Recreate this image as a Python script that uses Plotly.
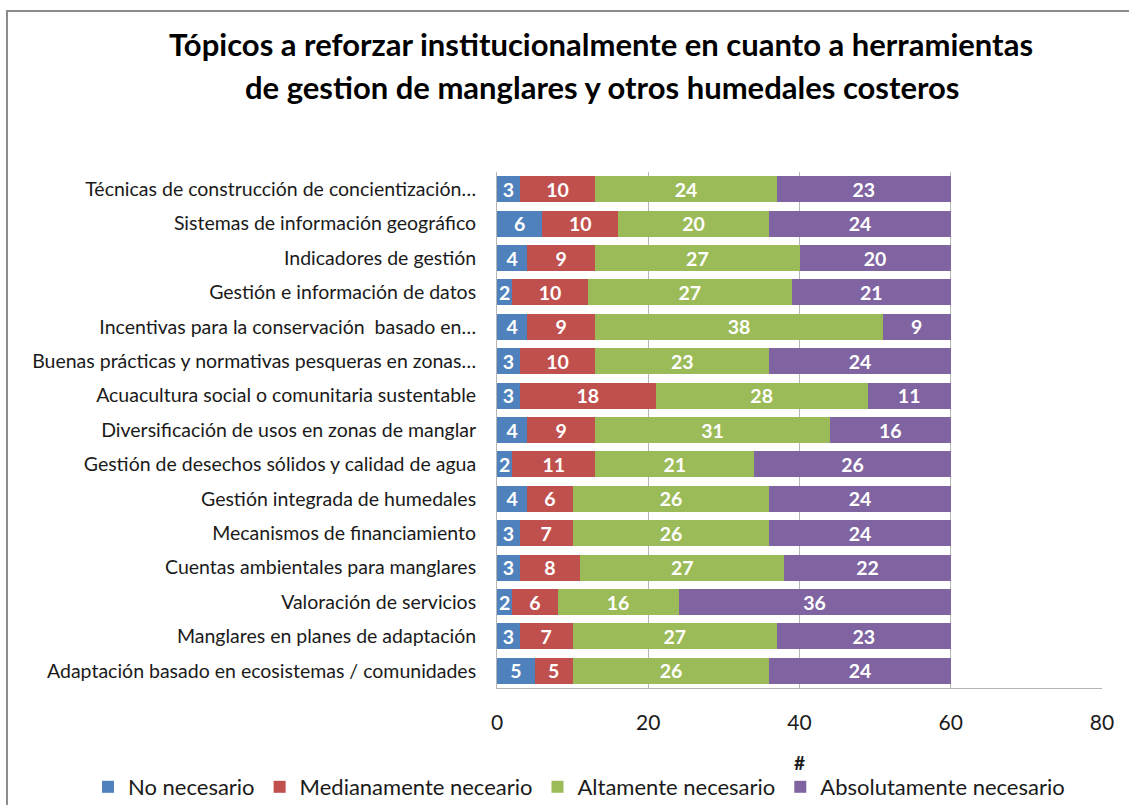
import plotly.graph_objects as go

categories = [
    "Técnicas de construcción de concientización…",
    "Sistemas de información geográfico",
    "Indicadores de gestión",
    "Gestión e información de datos",
    "Incentivas para la conservación  basado en…",
    "Buenas prácticas y normativas pesqueras en zonas…",
    "Acuacultura social o comunitaria sustentable",
    "Diversificación de usos en zonas de manglar",
    "Gestión de desechos sólidos y calidad de agua",
    "Gestión integrada de humedales",
    "Mecanismos de financiamiento",
    "Cuentas ambientales para manglares",
    "Valoración de servicios",
    "Manglares en planes de adaptación",
    "Adaptación basado en ecosistemas / comunidades",
]

no_necesario = [3, 6, 4, 2, 4, 3, 3, 4, 2, 4, 3, 3, 2, 3, 5]
medianamente = [10, 10, 9, 10, 9, 10, 18, 9, 11, 6, 7, 8, 6, 7, 5]
altamente = [24, 20, 27, 27, 38, 23, 28, 31, 21, 26, 26, 27, 16, 27, 26]
absolutamente = [23, 24, 20, 21, 9, 24, 11, 16, 26, 24, 24, 22, 36, 23, 24]

series_names = ["No necesario", "Medianamente neceario", "Altamente necesario", "Absolutamente necesario"]
series_values = [no_necesario, medianamente, altamente, absolutamente]
colors = ["#4F81BD", "#C0504D", "#9BBB59", "#8064A2"]

x_ticks = [0, 20, 40, 60, 80]
x_title = "#"

FONT = "Lato, Roboto, sans-serif"

fig = go.Figure()
for name, vals, col in zip(series_names, series_values, colors):
    fig.add_trace(go.Bar(
        y=categories, x=vals, name=name, orientation="h",
        marker=dict(color=col, line=dict(width=0)),
        text=vals, texttemplate="<b>%{text}</b>", textposition="inside",
        insidetextanchor="middle", constraintext="none", textangle=0,
        textfont=dict(color="white", size=19.5, family=FONT),
    ))

W, H = 1129, 805
L, R, T, B = 497, 27, 172, 117
pw = W - L - R
ph = H - T - B

def px_to_paper_x(px):
    return (px - L) / pw

def px_to_paper_y(py):
    return (H - B - py) / ph

fig.update_layout(
    barmode="stack",
    bargap=0.24,
    width=W, height=H,
    margin=dict(l=L, r=R, t=T, b=B, pad=0, autoexpand=False),
    paper_bgcolor="white", plot_bgcolor="white",
    font=dict(family=FONT, color="#1a1a1a"),
    uniformtext=dict(minsize=19.5, mode="show"),
    showlegend=True,
    legend=dict(
        orientation="h", xref="paper", x=px_to_paper_x(88), xanchor="left",
        yref="paper", y=px_to_paper_y(787), yanchor="middle",
        font=dict(size=22, family=FONT, color="#1a1a1a"),
        traceorder="normal", itemwidth=30, tracegroupgap=0,
        bgcolor="rgba(0,0,0,0)",
    ),
    xaxis=dict(
        range=[0, 80], tickvals=x_ticks, ticktext=[str(v) for v in x_ticks],
        showgrid=True, gridcolor="#b5b5b5", gridwidth=1,
        showline=True, linecolor="#b5b5b5", linewidth=1,
        ticks="outside", ticklen=16, tickcolor="rgba(0,0,0,0)",
        tickfont=dict(size=21, family=FONT, color="#1a1a1a"),
        zeroline=False,
    ),
    yaxis=dict(
        autorange="reversed", showgrid=False,
        showline=True, linecolor="#b5b5b5", linewidth=1,
        ticks="outside", ticklen=16, tickcolor="rgba(0,0,0,0)",
        tickfont=dict(size=19.5, family=FONT, color="#1a1a1a"),
    ),
)

fig.add_annotation(
    text="<b>" + x_title + "</b>",
    xref="paper", yref="paper", x=0.5, y=px_to_paper_y(762),
    xanchor="center", yanchor="middle", showarrow=False,
    font=dict(size=19, family=FONT, color="#1a1a1a"),
)

fig.add_annotation(
    text="<b>Tópicos a reforzar institucionalmente en cuanto a herramientas</b>",
    xref="paper", yref="paper", x=px_to_paper_x(601), y=px_to_paper_y(44),
    xanchor="center", yanchor="middle", showarrow=False,
    font=dict(size=31, family=FONT, color="#000000"),
)
fig.add_annotation(
    text="<b>de gestion de manglares y otros humedales costeros</b>",
    xref="paper", yref="paper", x=px_to_paper_x(602), y=px_to_paper_y(87),
    xanchor="center", yanchor="middle", showarrow=False,
    font=dict(size=31, family=FONT, color="#000000"),
)

fig.add_shape(
    type="rect", xref="paper", yref="paper",
    x0=px_to_paper_x(7), x1=px_to_paper_x(1140),
    y0=px_to_paper_y(820), y1=px_to_paper_y(11),
    line=dict(color="#8c8c8c", width=2), fillcolor="rgba(0,0,0,0)", layer="below",
)

fig.write_html("out.html", config={"displayModeBar": False},
               post_script="document.body.style.margin='0px';")
